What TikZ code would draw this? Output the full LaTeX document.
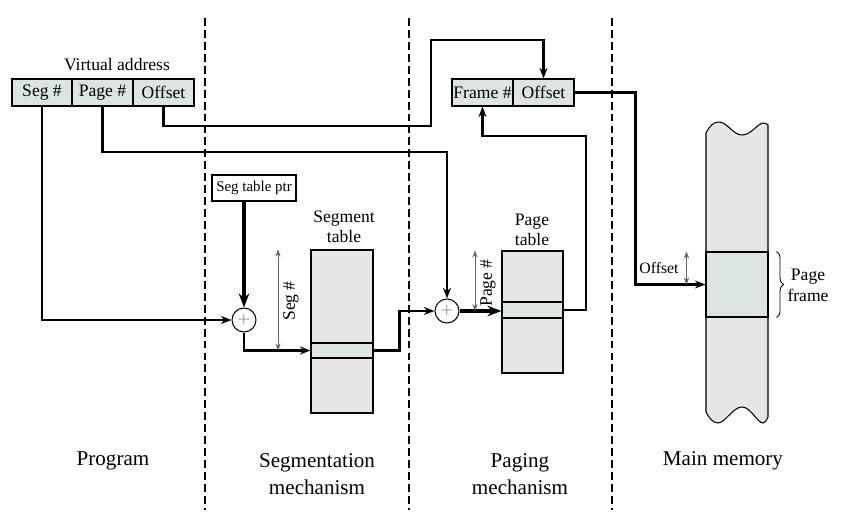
\documentclass[tikz,border=0pt]{standalone}
\usepackage{fontspec}
\setmainfont{Liberation Serif}
\usetikzlibrary{arrows.meta,decorations.pathreplacing}
\definecolor{tblgray}{HTML}{E6E6E6}
\definecolor{slotblue}{HTML}{DDE4E4}

\begin{document}
\begin{tikzpicture}
[
x=0.02cm,y=-0.02cm,
>={Stealth[length=6pt,width=4.5pt]},
cell/.style={draw,fill=slotblue,line width=0.6pt,minimum width=#1,minimum height=0.54cm,inner sep=0pt,font=\fontsize{10}{12}\selectfont},
tbl/.style 2 args={draw,fill=tblgray,line width=0.6pt,minimum width=#1,minimum height=#2,inner sep=0pt},
slot/.style 2 args={draw,fill=slotblue,line width=0.6pt,minimum width=#1,minimum height=#2,inner sep=0pt},
adder/.style={draw,circle,fill=white,line width=0.6pt,minimum size=0.48cm,inner sep=0pt,font=\small,text=black!55},
link/.style={->,line width=1.4pt},
heavy/.style={->,line width=1.9pt,>={Stealth[length=8pt,width=6pt]}},
dim/.style={<->,line width=0.5pt,draw=black!60,>={Stealth[length=4pt,width=3pt]}},
divider/.style={line width=1.1pt,dash pattern=on 4.5pt off 2.3pt},
lbl/.style={align=center,font=\fontsize{10}{11.5}\selectfont},
big/.style={align=center,font=\fontsize{12}{15.3}\selectfont},
]
\useasboundingbox (0,0) rectangle (842,516);

% column dividers
\foreach \x in {205,409,612}
  \draw[divider] (\x,18) -- (\x,510);

% virtual address
\node[lbl] (va) at (117,65) {Virtual address};
\node[cell=1.2cm] (sg) at (42,92.5) {Seg \#};
\node[cell=1.22cm] (pg) at (102.5,92.5) {Page \#};
\node[cell=1.22cm] (of) at (163.5,92.5) {Offset};

% segmentation
\node[draw,fill=white,line width=0.6pt,minimum width=1.68cm,minimum height=0.52cm,inner sep=0pt,font=\fontsize{8.5}{10}\selectfont] (ptr) at (254,188) {Seg table ptr};
\node[adder] (a1) at (244,320) {$+$};
\node[tbl={1.24cm}{3.26cm}] (st) at (342,331.5) {};
\node[slot={1.24cm}{0.3cm}] (srow) at (342,350.5) {};
\node[lbl] (stl) at (344,227) {Segment\\table};

% paging
\node[adder] (a2) at (447,311) {$+$};
\node[tbl={1.22cm}{2.44cm}] (pt) at (532.5,312) {};
\node[slot={1.22cm}{0.32cm}] (prow) at (532.5,310) {};
\node[lbl] (ptl) at (532,230) {Page\\table};
\node[cell=1.22cm] (fr) at (482.5,92.5) {Frame \#};
\node[cell=1.22cm] (fo) at (543.5,92.5) {Offset};

% main memory
\draw[fill=tblgray,line width=0.6pt] (706,133) .. controls (710,125) and (714,122) .. (719,122)
  .. controls (727,122) and (733,135) .. (742,135) .. controls (751,135) and (757,124) .. (763,123)
  .. controls (765,123) and (767,124) .. (768,125) -- (768,417)
  .. controls (766,421) and (765,423) .. (763,423) .. controls (757,423) and (751,407) .. (742,407)
  .. controls (733,407) and (725,423) .. (718,423) .. controls (713,423) and (709,418) .. (706,412) -- cycle;
\node[slot={1.24cm}{1.3cm}] (mrow) at (737,284.5) {};
\node[lbl,font=\fontsize{9}{11}\selectfont] (mol) at (659,268) {Offset};
\node[lbl,font=\fontsize{10}{12}\selectfont] (pfl) at (808,285) {Page\\frame};
\draw[line width=0.5pt,decorate,decoration={brace,amplitude=4pt}] ([xshift=0.16cm]mrow.north east) -- ([xshift=0.16cm]mrow.south east);

% connections
\draw[link] (sg.south) |- (a1);
\draw[link] (pg.south) -- (pg.south |- 0,152) -| (a2);
\draw[link] (of.south) -- (of.south |- 0,126) -| (431,40) -| (fo.north);
\draw[heavy] (ptr.south -| a1) -- (a1);
\draw[link] (a1) |- (srow.west);
\draw[link] (srow.east) -- ++(26,0) |- (a2);
\draw[heavy] (a2) -- (a2 -| pt.west);
\draw[link] (prow.east) -| (586,136) -| (fr.south);
\draw[link] (fo.east) -| ([xshift=-1.4cm]mrow.west) -- (mrow.west);

% sizes
\draw[dim] (st.north -| 278,0) -- (srow.west -| 278,0);
\node[lbl,rotate=90] (sgl) at (291,301) {Seg \#};
\draw[dim] (pt.north -| 475,0) -- (a2 -| 475,0);
\node[lbl,rotate=90] (pgl) at (488,283) {Page \#};
\draw[dim] ([xshift=-0.38cm]mrow.north west) -- ([xshift=-0.38cm]mrow.west);

% columns
\node[big] (prog) at (113,461) {Program};
\node[big] (segm) at (317,474) {Segmentation\\mechanism};
\node[big] (pagm) at (520,474) {Paging\\mechanism};
\node[big] (mm) at (723,461) {Main memory};
\end{tikzpicture}
\end{document}
